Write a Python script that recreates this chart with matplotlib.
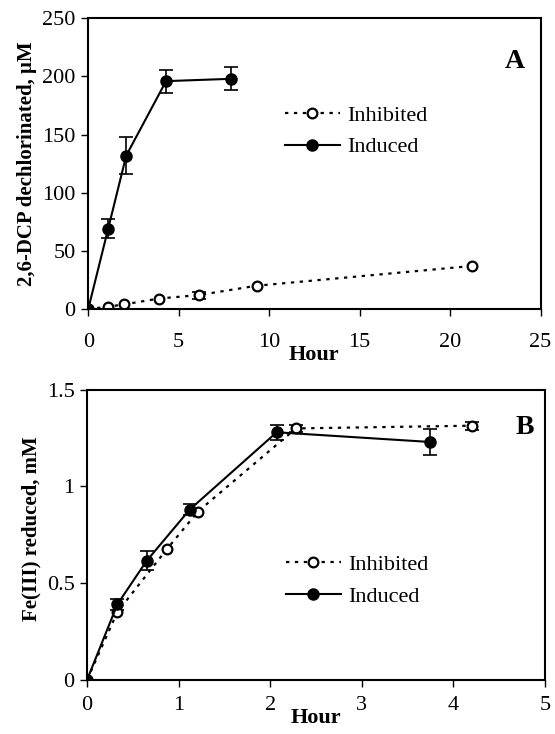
import matplotlib
matplotlib.use("Agg")
import matplotlib.pyplot as plt
from matplotlib.lines import Line2D

plt.rcParams['font.family'] = ['Liberation Serif', 'DejaVu Serif']

# panel A: 2,6-DCP dechlorinated (uM)
a_ind_x = [0, 1.1, 2.1, 4.3, 7.9]
a_ind_y = [0, 69, 132, 196, 198]
a_ind_err = [0, 8, 16, 10, 10]
a_inh_x = [0, 1.1, 2.0, 3.9, 6.1, 9.3, 21.2]
a_inh_y = [0, 2, 4, 9, 12, 20, 37]
a_inh_err = [0, 0, 0, 0, 3, 0, 0]

# panel B: Fe(III) reduced (mM)
b_ind_x = [0, 0.33, 0.65, 1.12, 2.07, 3.74]
b_ind_y = [0, 0.39, 0.615, 0.88, 1.28, 1.23]
b_ind_err = [0, 0.03, 0.05, 0.03, 0.04, 0.065]
b_inh_x = [0, 0.33, 0.87, 1.21, 2.28, 4.2]
b_inh_y = [0, 0.35, 0.675, 0.87, 1.30, 1.314]
b_inh_err = [0, 0, 0, 0, 0.02, 0.02]

fig = plt.figure(figsize=(5.55, 7.34), dpi=100)
axA = fig.add_axes([0.159, 0.579, 0.815, 0.396])
axB = fig.add_axes([0.157, 0.074, 0.825, 0.395])

inh_style = dict(color='black', ls=(0, (1.5, 2.5)), lw=1.6, marker='o', ms=7,
                 mfc='white', mec='black', mew=1.6)
ind_style = dict(color='black', ls='-', lw=1.5, marker='o', ms=8,
                 mfc='black', mec='black')


def errbars(ax, x, y, e):
    # only the points that have a visible error bar
    keep = [i for i in range(len(e)) if e[i] > 0]
    ax.errorbar([x[i] for i in keep], [y[i] for i in keep],
                yerr=[e[i] for i in keep], fmt='none', ecolor='black',
                capsize=5, elinewidth=1.2, capthick=1.2, zorder=1)


def draw(ax, ix, iy, ie, nx, ny, ne, leg_y):
    errbars(ax, nx, ny, ne)
    errbars(ax, ix, iy, ie)
    ax.plot(nx, ny, zorder=2, **inh_style)
    ax.plot(ix, iy, zorder=3, **ind_style)
    for s in ax.spines.values():
        s.set_linewidth(1.5)
    ax.tick_params(top=False, right=False, direction='out', length=5,
                   width=1, labelsize=16, pad=4)
    ax.set_xlabel('Hour', fontsize=16, fontweight='bold', labelpad=-5)
    handles = [Line2D([], [], **inh_style), Line2D([], [], **ind_style)]
    ax.legend(handles, ['Inhibited', 'Induced'], loc='upper left',
              bbox_to_anchor=(0.39, leg_y), frameon=False, fontsize=16,
              handlelength=2.5, handletextpad=0.3, labelspacing=0.5,
              numpoints=1)


draw(axA, a_ind_x, a_ind_y, a_ind_err, a_inh_x, a_inh_y, a_inh_err, 0.77)
axA.set_xlim(0, 25)
axA.set_ylim(0, 250)
axA.set_xticks([0, 5, 10, 15, 20, 25])
axA.set_yticks([0, 50, 100, 150, 200, 250])
axA.tick_params(axis='x', pad=12)
axA.set_ylabel('2,6-DCP dechlorinated, μM', fontsize=15, fontweight='bold')
axA.text(0.965, 0.85, 'A', transform=axA.transAxes, ha='right', va='center',
         fontsize=20, fontweight='bold')

draw(axB, b_ind_x, b_ind_y, b_ind_err, b_inh_x, b_inh_y, b_inh_err, 0.50)
axB.set_xlim(0, 5)
axB.set_ylim(0, 1.5)
axB.set_xticks([0, 1, 2, 3, 4, 5])
axB.set_yticks([0, 0.5, 1, 1.5])
axB.set_yticklabels(['0', '0.5', '1', '1.5'])
axB.tick_params(axis='x', pad=7)
axB.set_ylabel('Fe(III) reduced, mM', fontsize=15, fontweight='bold')
axB.yaxis.set_label_coords(-0.1, 0.52)
axB.text(0.975, 0.87, 'B', transform=axB.transAxes, ha='right', va='center',
         fontsize=20, fontweight='bold')

fig.savefig('out.png', dpi=100)
